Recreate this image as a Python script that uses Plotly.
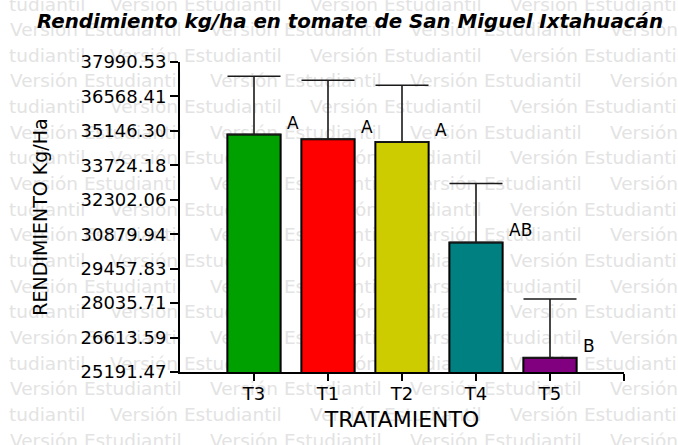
import plotly.graph_objects as go

# ---- data ----
categories = ["T3", "T1", "T2", "T4", "T5"]
yield_mean = [34996, 34803, 34691, 30541, 25781]
yield_err = [2405, 2433, 2339, 2434, 2422]
letters = ["A", "A", "A", "AB", "B"]
bar_colors = ["#00a000", "#ff0000", "#cccc00", "#008080", "#800080"]
y_ticks = [25191.47, 26613.59, 28035.71, 29457.83, 30879.94,
           32302.06, 33724.18, 35146.30, 36568.41, 37990.53]
y_tick_labels = ["25191.47", "26613.59", "28035.71", "29457.83", "30879.94",
                 "32302.06", "33724.18", "35146.30", "36568.41", "37990.53"]

W, H = 678, 445
ML, MR, MT, MB = 180, 54, 62, 73
PW, PH = W - ML - MR, H - MT - MB
FONT = "DejaVu Sans"

x_pos = list(range(1, len(categories) + 1))


def px_to_paper(px, py):
    return (px - ML) / PW, (H - MB - py) / PH


fig = go.Figure()

# ---- bars ----
fig.add_trace(go.Bar(
    x=x_pos, y=yield_mean, width=0.72,
    marker=dict(color=bar_colors, line=dict(color="black", width=2)),
    error_y=dict(type="data", array=yield_err, arrayminus=[0] * len(yield_err),
                 symmetric=False, color="#1a1a1a", thickness=1.6, width=26.5),
    hoverinfo="skip"))

# ---- watermark ("Versión Estudiantil") as labels of invisible shapes below everything ----
shapes = []
row_step = 25.65
for k in range(18):
    yc = 2.5 + row_step * k
    if k % 2 == 1:
        items = [(10 + 200 * j, "Versión Estudiantil") for j in range(4)]
    else:
        items = [(9, "tudiantil")] + [(110 + 200 * j, "Versión Estudiantil") for j in range(3)]
    for xs, txt in items:
        x0, y0 = px_to_paper(xs, yc)
        x1, _ = px_to_paper(xs + 1, yc)
        shapes.append(dict(
            type="line", xref="paper", yref="paper", x0=x0, x1=x1, y0=y0, y1=y0,
            layer="below", line=dict(color="rgba(0,0,0,0)", width=1),
            label=dict(text=txt, textposition="start", xanchor="left",
                       yanchor="middle", padding=0,
                       font=dict(family=FONT, size=18.5, color="#e3e3e3"))))

annotations = []
for xp, v, lab in zip(x_pos, yield_mean, letters):
    annotations.append(dict(x=xp + 0.42, y=v, xref="x", yref="y", text=lab,
                            xanchor="left", yanchor="middle", yshift=12,
                            showarrow=False,
                            font=dict(family=FONT, size=17, color="black")))

fig.update_layout(
    width=W, height=H,
    margin=dict(l=ML, r=MR, t=MT, b=MB, pad=0),
    paper_bgcolor="white", plot_bgcolor="rgba(0,0,0,0)",
    showlegend=False,
    title=dict(text="Rendimiento kg/ha en tomate de San Miguel Ixtahuacán",
               x=350 / W, xanchor="center", y=1 - 21 / H, yanchor="middle",
               font=dict(family=FONT, size=19.8, color="black",
                         weight="bold", style="italic")),
    xaxis=dict(range=[0, 6],
               tickmode="array", tickvals=x_pos + [6],
               ticktext=categories + [""],
               ticks="outside", ticklen=7, tickwidth=2, tickcolor="black",
               showline=True, linecolor="black", linewidth=2,
               showgrid=False, zeroline=False, ticklabelstandoff=-3,
               tickfont=dict(family=FONT, size=18, color="black"),
               title=dict(text="TRATAMIENTO", standoff=9,
                          font=dict(family=FONT, size=22, color="black"))),
    yaxis=dict(range=[y_ticks[0], y_ticks[-1]],
               tickmode="array", tickvals=y_ticks, ticktext=y_tick_labels,
               ticks="outside", ticklen=8, tickwidth=2, tickcolor="black",
               showline=True, linecolor="black", linewidth=2,
               showgrid=False, zeroline=False,
               tickfont=dict(family=FONT, size=18, color="black"),
               title=dict(text="RENDIMIENTO Kg/Ha", standoff=28,
                          font=dict(family=FONT, size=19, color="black"))),
    shapes=shapes,
    annotations=annotations,
)

fig.write_html("out.html", config={"displayModeBar": False},
               post_script="document.body.style.margin='0';")
